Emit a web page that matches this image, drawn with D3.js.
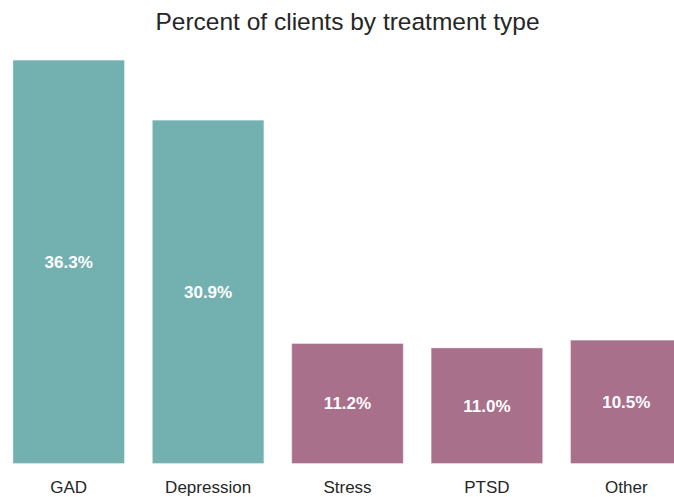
<!DOCTYPE html>
<html>
<head>
    <meta charset="utf-8">
    <title>Percent of clients by treatment type</title>
    <style>
      body{
        margin: 0;
        background: #ffffff;
      }
      svg{
        display: block;
        font-family: "Liberation Sans", Arial, sans-serif;
      }
    </style>
</head>
<body>
<div id="chart"></div>

<script src="https://d3js.org/d3.v7.min.js"></script>
<script>
// treatment categories, in plotted order
var categories = ["GAD", "Depression", "Stress", "PTSD", "Other"];
// bar heights (percent)
var barValues  = [36.3, 30.9, 10.8, 10.4, 11.1];
// the labels printed inside each bar
var barLabels  = ["36.3%", "30.9%", "11.2%", "11.0%", "10.5%"];

var width  = 674,
    height = 497;

// axes box runs a bit past the right edge of the picture, so the last bar gets cut
var x = d3.scaleBand()
    .domain(categories)
    .range([-1, 696])
    .paddingInner(0.2)
    .paddingOuter(0.1);

var y = d3.scaleLinear()
    .domain([0, d3.max(barValues) * 1.05])   // same 5% headroom matplotlib gives
    .range([463.5, 40]);

// top two in teal, the rest in mauve
var color = d3.scaleOrdinal()
    .domain(categories)
    .range(["#73b1b1", "#73b1b1", "#a9708c", "#a9708c", "#a9708c"]);

var svg = d3.select("#chart")
    .append("svg")
    .attr("width", width)
    .attr("height", height);

var data = categories.map(function(c, i){
    return {name: c, value: barValues[i], label: barLabels[i]};
});

//bars
svg.selectAll(".bar")
    .data(data)
    .enter()
    .append("rect")
    .attr("class", "bar")
    .attr("x", function(d){ return x(d.name); })
    .attr("y", function(d){ return y(d.value); })
    .attr("width", x.bandwidth())
    .attr("height", function(d){ return y(0) - y(d.value); })
    .style("fill", function(d){ return color(d.name); })
    .style("stroke", "#ffffff")
    .style("stroke-opacity", 0.35)
    .style("stroke-width", 1);

//percent labels, in the middle of each bar
svg.selectAll(".pct")
    .data(data)
    .enter()
    .append("text")
    .attr("class", "pct")
    .attr("x", function(d){ return x(d.name) + x.bandwidth() / 2; })
    .attr("y", function(d){ return (y(d.value) + y(0)) / 2; })
    .attr("dy", "0.35em")
    .attr("text-anchor", "middle")
    .style("fill", "#ffffff")
    .style("font-weight", "bold")
    .style("font-size", "17px")
    .text(function(d){ return d.label; });

//x axis, labels only
var xAxis = svg.append("g")
    .attr("transform", "translate(0," + y(0) + ")")
    .call(d3.axisBottom(x).tickSize(0).tickPadding(17));

xAxis.select(".domain").remove();
xAxis.selectAll("text")
    .attr("dy", "0.71em")
    .style("font-family", "\"Liberation Sans\", Arial, sans-serif")
    .style("font-size", "17px")
    .style("fill", "#262626");

//title
svg.append("text")
    .attr("x", (x.range()[0] + x.range()[1]) / 2)
    .attr("y", 30)
    .attr("text-anchor", "middle")
    .style("font-size", "24.5px")
    .style("fill", "#262626")
    .text("Percent of clients by treatment type");
</script>
</body>
</html>
